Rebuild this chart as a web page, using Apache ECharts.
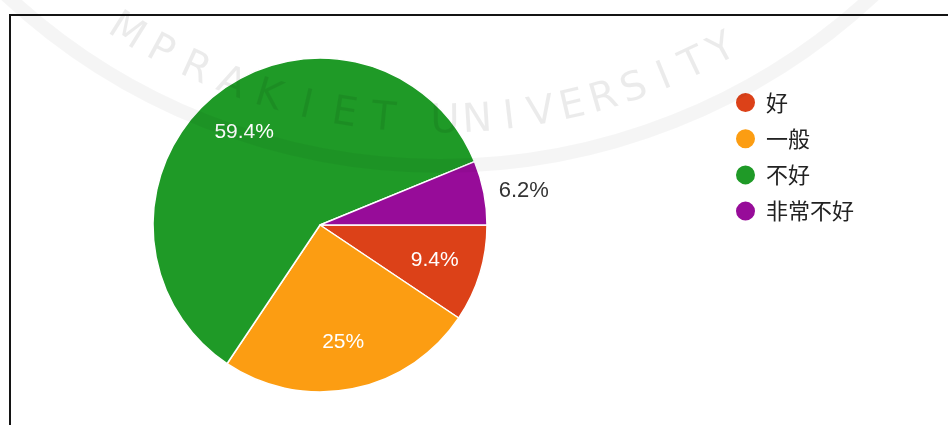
<!DOCTYPE html>
<html>
<head>
<meta charset="utf-8">
<title>满意度分布</title>
<script src="https://cdn.jsdelivr.net/npm/echarts@6/dist/echarts.min.js"></script>
<style>
  html, body { margin: 0; padding: 0; background: #ffffff; }
  #chart { width: 948px; height: 425px; }
</style>
</head>
<body>
<div id="chart"></div>
<script>
// Answer categories and their share of responses (percent)
const categories = ['好', '一般', '不好', '非常不好'];
const shares = [9.4, 25, 59.4, 6.2];

// Slice palette, in category order
const palette = ['#dc4118', '#fc9d12', '#1f9a27', '#970c99'];

// Faint seal lettering printed across the page, in two arcs of words
const sealWords = ['MPRAKIET', 'UNIVERSITY'];

const chart = echarts.init(document.getElementById('chart'), null, { renderer: 'canvas' });

const pieCenter = [320, 225];
const pieRadius = 167;
const labelFont = '"Liberation Sans", Arial, sans-serif';
const cjkFont = '"Noto Sans CJK SC", "Noto Sans", sans-serif';

// Only the small slice gets an outside label; the others are labelled inside
const outsideIndex = shares.indexOf(Math.min(...shares));

const sliceData = categories.map((name, i) => ({
  name: name,
  value: shares[i],
  itemStyle: { color: palette[i] },
  label: i === outsideIndex ? { show: true } : { show: false }
}));

// Transparent twin ring, larger, whose "inside" label anchors sit at 70% of the real radius
const labelData = categories.map((name, i) => ({
  name: name,
  value: shares[i],
  label: { show: i !== outsideIndex }
}));

// Seal lettering laid along a wide arc (angles in degrees, clockwise from +x)
const sealCx = 440, sealCy = -470, sealR = 592;
const wordSpans = [[122, 95.5], [89.5, 61.5]];
const sealLetters = [];
sealWords.forEach((word, w) => {
  const [a0, a1] = wordSpans[w];
  const step = (a0 - a1) / (word.length - 1);
  word.split('').forEach((ch, i) => {
    const deg = a0 - i * step;
    const rad = deg * Math.PI / 180;
    sealLetters.push({
      type: 'text',
      x: sealCx + sealR * Math.cos(rad),
      y: sealCy + sealR * Math.sin(rad),
      rotation: (90 - deg) * Math.PI / 180,
      silent: true,
      z: 100,
      style: {
        text: ch,
        fill: 'rgba(0,0,0,0.08)',
        font: '40px "DejaVu Sans", sans-serif',
        align: 'center',
        verticalAlign: 'middle'
      }
    });
  });
});

const option = {
  backgroundColor: '#ffffff',
  animation: false,
  legend: {
    orient: 'vertical',
    left: 729,
    top: 86,
    padding: 5,
    icon: 'circle',
    itemWidth: 21,
    itemHeight: 21,
    itemGap: 13.2,
    data: categories,
    selectedMode: false,
    textStyle: {
      fontFamily: cjkFont,
      fontSize: 22,
      color: '#222222',
      padding: [0, 0, 0, 5]
    }
  },
  graphic: [
    {
      type: 'rect',
      silent: true,
      z: 50,
      shape: { x: 10, y: 15, width: 1000, height: 500 },
      style: { fill: 'none', stroke: '#141414', lineWidth: 2 }
    },
    {
      type: 'arc',
      silent: true,
      z: 99,
      shape: { cx: sealCx, cy: sealCy, r: 636, startAngle: 0, endAngle: Math.PI },
      style: { fill: 'none', stroke: 'rgba(0,0,0,0.04)', lineWidth: 14 }
    }
  ].concat(sealLetters),
  series: [
    {
      type: 'pie',
      center: pieCenter,
      radius: pieRadius,
      startAngle: 0,
      clockwise: true,
      silent: true,
      avoidLabelOverlap: false,
      itemStyle: { borderColor: '#ffffff', borderWidth: 1.5 },
      label: {
        position: 'outside',
        formatter: '{c}%',
        fontFamily: labelFont,
        fontSize: 22,
        color: '#333333'
      },
      labelLine: { show: false, length: 10, length2: 0 },
      emphasis: { disabled: true },
      data: sliceData
    },
    {
      type: 'pie',
      center: pieCenter,
      radius: pieRadius * 1.4,
      startAngle: 0,
      clockwise: true,
      silent: true,
      z: 3,
      itemStyle: { color: 'rgba(0,0,0,0)', borderWidth: 0 },
      label: {
        position: 'inside',
        formatter: '{c}%',
        fontFamily: labelFont,
        fontSize: 21,
        color: '#ffffff'
      },
      labelLine: { show: false },
      emphasis: { disabled: true },
      data: labelData
    }
  ]
};

chart.setOption(option);
</script>
</body>
</html>
